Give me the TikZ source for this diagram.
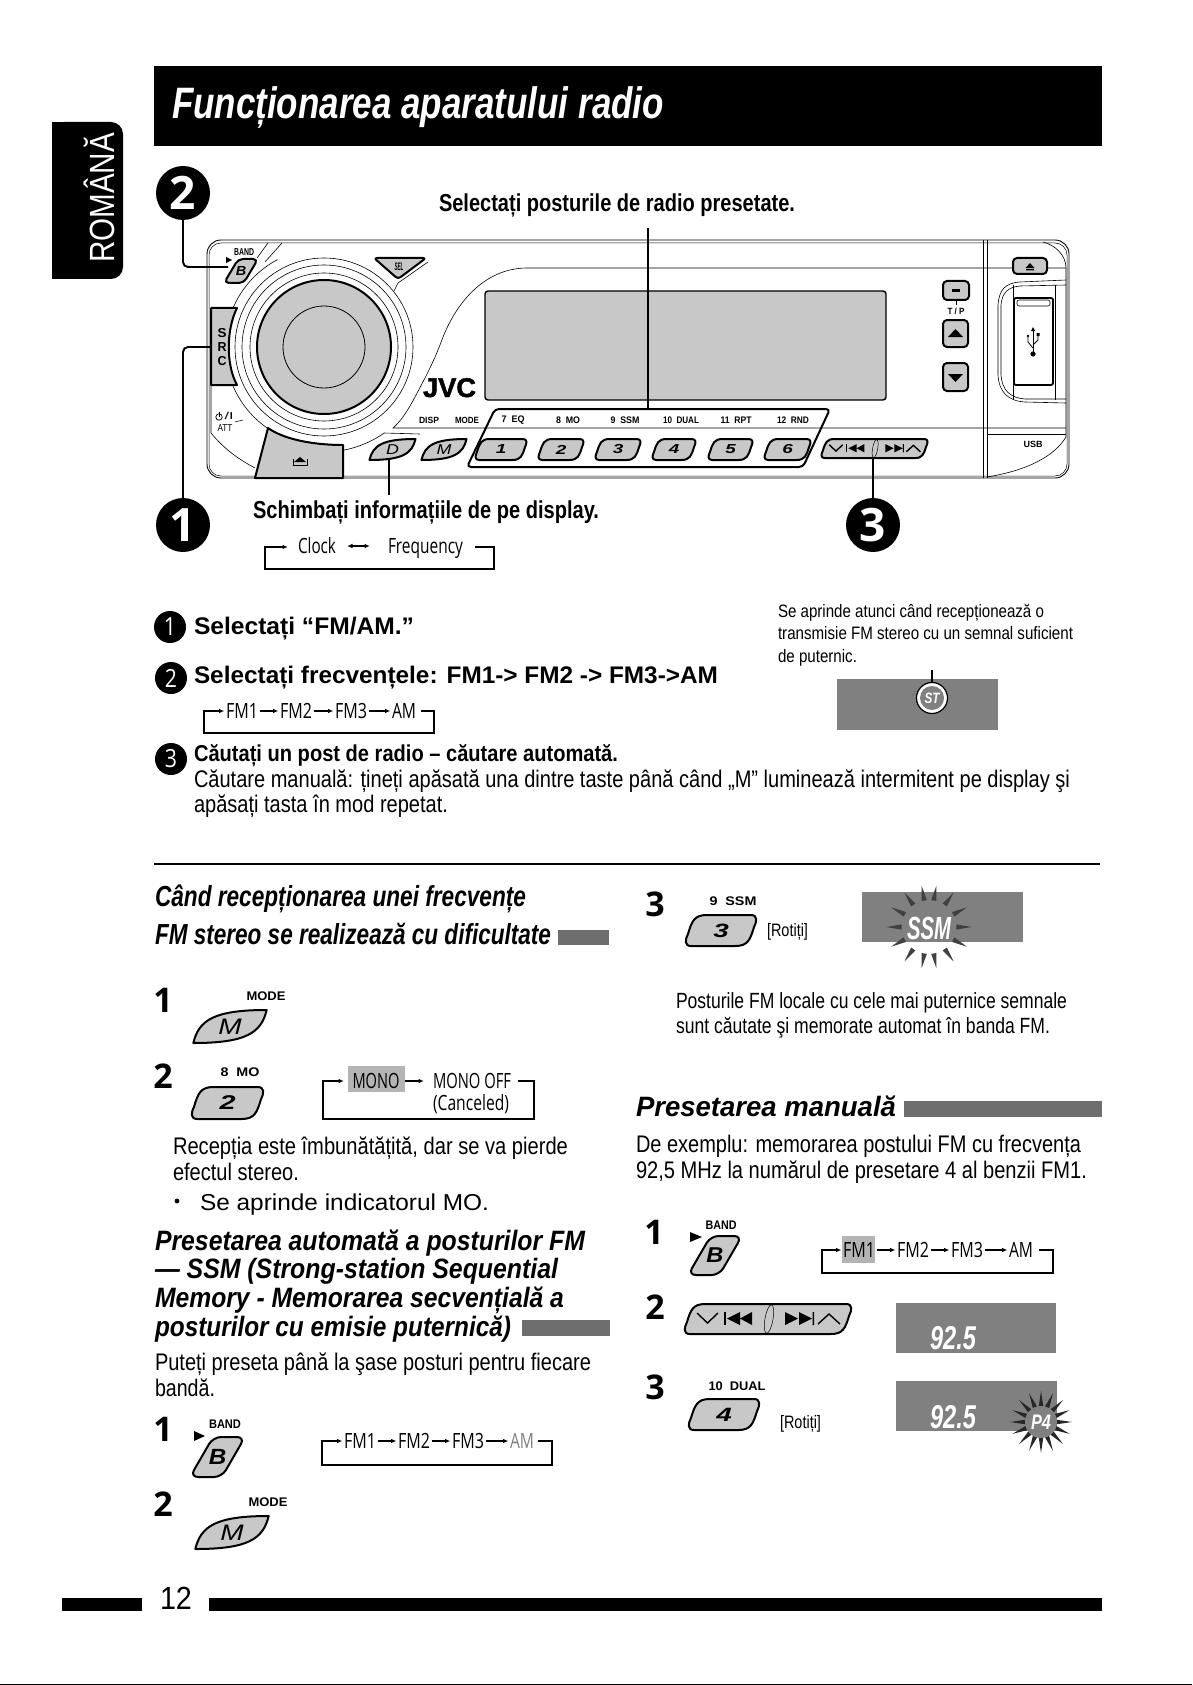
\documentclass[tikz,border=0pt]{standalone}
\usepackage{graphicx}
\usepackage{fontspec}
\setmainfont{Liberation Sans}
\newfontfamily\myr{Open Sans}
\newfontfamily\jvcf[FakeBold=1.6]{Liberation Sans}
\usetikzlibrary{arrows.meta,calc}
\newcommand\fs[1]{\fontsize{#1}{#1}\selectfont}
\newsavebox\fwbox
\newcommand\fw[2]{\sbox\fwbox{#2}\pgfmathsetmacro\fwr{#1/\wd\fwbox}\scalebox{\fwr}[1]{\usebox\fwbox}}
\newcounter{tc}
% left/baseline text fitted to a width
\newcommand\T[5]{\stepcounter{tc}\node[tl,font=#4] (t\thetc) at (#1,#2) {\fw{#3}{#5}};}
% centred text fitted to a width
\newcommand\C[5]{\stepcounter{tc}\node[tc,font=#4] (t\thetc) at (#1,#2) {\fw{#3}{#5}};}
% slanted preset button
\newcommand\pbtn[5]{\pgfmathsetmacro\hh{#4-#2}\pgfmathsetmacro\fsz{\hh*.62}
 \draw[btn] ({#1+.7*\hh},#2) -- ({#3-.2*\hh},#2) .. controls ({#3+.03*\hh},#2) and (#3,{#2+.2*\hh}) .. ({#3-.1*\hh},{#2+.4*\hh}) .. controls ({#3-.22*\hh},{#4-.2*\hh}) and ({#3-.3*\hh},#4) .. ({#3-.7*\hh},#4) -- ({#1+.2*\hh},#4) .. controls ({#1-.03*\hh},#4) and (#1,{#4-.2*\hh}) .. ({#1+.1*\hh},{#4-.4*\hh}) .. controls ({#1+.22*\hh},{#2+.2*\hh}) and ({#1+.3*\hh},#2) .. cycle;
 \stepcounter{tc}\node[tc,font=\bfseries\itshape\fs{\fsz}] (t\thetc) at ({(#1+#3)/2},{(#2+#4)/2}) {\scalebox{1.45}[1]{#5}};}
% leaf button
\newcommand\leaf[5]{\pgfmathsetmacro\ww{#3-#1}\pgfmathsetmacro\hh{#4-#2}\pgfmathsetmacro\fsz{\hh*.68}
 \draw[btn] ({#1+.03*\ww},#4) .. controls ({#1+.1*\ww},{#2+.3*\hh}) and ({#1+.3*\ww},#2) .. ({#3-.03*\ww},#2) .. controls ({#3-.1*\ww},{#4-.3*\hh}) and ({#3-.3*\ww},#4) .. cycle;
 \stepcounter{tc}\node[tc,font=\itshape\fs{\fsz}] (t\thetc) at ({(#1+#3)/2},{(#2+#4)/2}) {\scalebox{1.25}[1]{#5}};}
% B button
\newcommand\bbtn[4]{\pgfmathsetmacro\ww{#3-#1}\pgfmathsetmacro\hh{#4-#2}\pgfmathsetmacro\fsz{\hh*.55}\pgfmathsetmacro\rcs{\hh*.2}
 \draw[btn,rounded corners=\rcs pt] ({#1+.42*\ww},#2) -- (#3,#2) -- ({#3-.42*\ww},#4) -- (#1,#4) -- cycle;
 \stepcounter{tc}\node[tc,font=\bfseries\itshape\fs{\fsz}] (t\thetc) at ({(#1+#3)/2},{(#2+#4)/2}) {\scalebox{1.1}[1]{B}};}
% seek button drawn in a 168x30 cell
\newcommand\seekbtn[3]{\begin{scope}[shift={(#1,#2)},scale=#3]
 \pbtn{0}{0}{168}{30}{}
 \draw[black,line width=1.4pt,line join=miter] (13,9) -- (23.5,19) -- (34,9);
 \draw[black,line width=1.4pt,line join=miter] (134,20) -- (145,10) -- (156,20);
 \fill (40,8) rectangle (41.5,21);
 \fill (43,14.5) -- (56,8) -- (56,21) -- cycle (56,14.5) -- (68,8) -- (68,21) -- cycle;
 \fill (114,14.5) -- (101,8) -- (101,21) -- cycle (128,14.5) -- (115,8) -- (115,21) -- cycle (128.5,8) rectangle (130,21);
 \draw[black,line width=.5pt] (85,15) ellipse[x radius=4,y radius=14.5,rotate=-10];
 \end{scope}}
\newcommand\burst[8]{\foreach \a in {#7}{\fill[#6] ({#1+#5*#4*cos(\a)},{#2-#4*sin(\a)}) -- ({#1+#5*#3*cos(\a-#8)},{#2-#3*sin(\a-#8)}) -- ({#1+#5*#3*cos(\a+#8)},{#2-#3*sin(\a+#8)}) -- cycle;}}
\tikzset{
 tl/.style={anchor=base west,inner sep=0pt,outer sep=0pt},
 tc/.style={anchor=center,inner sep=0pt,outer sep=0pt},
 btn/.style={draw=black,fill=btngray,line width=2pt,line join=round},
 thinl/.style={draw=black,line width=.6pt},
 farr/.style={draw=black,line width=1.1pt,-{Latex[length=5.5pt,width=4.5pt]}},
 fmt/.style={anchor=center,inner sep=1.5pt,outer sep=0pt,font=\myr\fs{21}},
 callout/.style={draw=black,line width=1.9pt,rounded corners=5pt},
 numbg/.style={circle,fill=black,text=white,inner sep=0pt,font=\myr\bfseries\fs{46}},
 nums/.style={circle,fill=black,text=white,inner sep=0pt,minimum size=32pt,font=\myr\fs{25}},
 bignum/.style={anchor=center,inner sep=0pt,font=\myr\bfseries\fs{34}},
}
\definecolor{btngray}{HTML}{C8C8C8}
\definecolor{lcd}{HTML}{808080}
\definecolor{bar}{HTML}{6E6E6E}
\definecolor{hil}{HTML}{B4B4B4}
\begin{document}
\begin{tikzpicture}[x=1pt,y=-1pt]
\useasboundingbox (0,0) rectangle (1192,1685);
\fill[white] (0,0) rectangle (1192,1685);
\fill[black] (0,1684) rectangle (1192,1685);
% title
\fill[black] (154,66) rectangle (1102,146);
\T{172}{119}{492}{\bfseries\itshape\color{white}\fs{44}}{Funcționarea aparatului radio}
% tab
\fill[black,rounded corners=12pt] (52,122) -- (123,122) -- (123,279) -- (52,279) -- cycle;
\fill[black] (52,122) rectangle (70,279);
\stepcounter{tc}\node[tc,rotate=90,text=white,font=\fs{35}] (t\thetc) at (99,198) {\fw{130}{ROMÂNĂ}};
% ---------- device ----------
\draw[black,line width=.9pt,fill=white,rounded corners=14pt] (207,240) rectangle (1069,478);
\draw[black,line width=.5pt,rounded corners=12pt] (209,243) rectangle (1067,476);
% body lines
\draw[thinl] (1066,268) -- (527,268) .. controls (490,268) and (460,295) .. (443,337) .. controls (434,362) and (425,378) .. (415,397) .. controls (408,410) and (402,420) .. (393,428) -- (1066,428);
\draw[thinl] (987,434) -- (1066,434);
\draw[thinl] (987,477) .. controls (1030,470) and (1055,455) .. (1066,437) -- (1066,268) .. controls (1066,255) and (1055,245) .. (1043,242);
\draw[black,line width=.8pt] (983,240) -- (983,478) (987,240) -- (987,478);
\draw[thinl] (211,385) -- (211,433) .. controls (225,450) and (240,460) .. (255,468);
\draw[thinl] (268,243) -- (257,258) (282,243) -- (265,262);
\draw[thinl] (428,262) -- (398,283) -- (394,291);
% rings
\foreach \r in {74,82,89}{\draw[thinl] (324,347) circle[radius=\r];}
\draw[thinl] plot[domain=118:165,samples=24] ({324+99*cos(\x)},{347-99*sin(\x)});
\draw[thinl] plot[domain=195:250,samples=24] ({324+99*cos(\x)},{347-99*sin(\x)});
\draw[thinl] plot[domain=270:305,samples=16] ({324+105*cos(\x)},{347-105*sin(\x)}) -- (420,434);
\draw[black,line width=2pt,fill=btngray] (324,347) circle[radius=67];
\draw[black,line width=.8pt] (324,347) circle[radius=41];
% SRC
\draw[btn] (211,308) -- (237,308) .. controls (226,330) and (226,365) .. (237,385) -- (211,385) -- cycle;
\C{222}{333}{9}{\bfseries\fs{13}}{S}\C{222}{347}{9}{\bfseries\fs{13}}{R}\C{222}{361}{9}{\bfseries\fs{13}}{C}
% eject knob
\draw[btn] (268,428) .. controls (285,440) and (315,445) .. (343,445) -- (343,478) -- (255,478) -- cycle;
\fill[black] (300,457) -- (306,462) -- (294,462) -- cycle;
\draw[black,line width=.9pt] (293,459) -- (293,465) -- (307,465) -- (307,459);
% B, SEL
\bbtn{224}{259}{258}{283}
\fill[black] (226,257) -- (232,260) -- (226,263) -- cycle;
\C{244}{252}{20}{\bfseries\fs{10}}{BAND}
\draw[btn,rounded corners=3pt] (374,258) -- (426,258) -- (398,279) -- cycle;
\C{399}{267}{9}{\bfseries\itshape\fs{11}}{SEL}
% power/att
\draw[black,line width=.7pt] (219,417) circle[radius=3.2];
\draw[black,line width=.7pt] (219,412) -- (219,417);
\C{229}{416}{9}{\fs{10}}{/I}
\C{225}{428}{15}{\fs{10}}{ATT}
\draw[thinl] (235,422) -- (243,420);
% JVC, display
\T{423}{397}{53}{\jvcf\bfseries\fs{27}}{JVC}
\draw[black,line width=1.4pt,fill=btngray,rounded corners=3pt] (485,291) rectangle (886,400);
% keys labels
\C{429}{420}{20}{\bfseries\fs{9}}{DISP}\C{467}{420}{24}{\bfseries\fs{9}}{MODE}
\draw[black,line width=2pt,rounded corners=4pt] (495,409) -- (830,409) -- (803,467) -- (467,467) -- cycle;
\C{513}{420}{23}{\bfseries\fs{9.5}}{7~~EQ}\C{568}{420}{24}{\bfseries\fs{9.5}}{8~~MO}\C{625}{420}{29}{\bfseries\fs{9.5}}{9~~SSM}
\C{681}{420}{36}{\bfseries\fs{9.5}}{10~~DUAL}\C{736}{420}{31}{\bfseries\fs{9.5}}{11~~RPT}\C{793}{420}{32}{\bfseries\fs{9.5}}{12~~RND}
\leaf{368}{439}{417}{460}{D}\leaf{420}{439}{468}{460}{M}
\pbtn{475}{439}{527}{460}{1}\pbtn{538}{439}{584}{460}{2}\pbtn{595}{439}{641}{460}{3}
\pbtn{652}{439}{696}{460}{4}\pbtn{708}{439}{753}{460}{5}\pbtn{764}{439}{811}{460}{6}
\seekbtn{821}{439}{.637}
% right keys
\draw[btn,rounded corners=4pt] (943,281) rectangle (969,300);
\fill[black] (952,289) rectangle (960,292);
\draw[black,line width=.6pt] (956,301) -- (956,305);
\C{956}{311}{17}{\bfseries\fs{9}}{T / P}
\draw[btn,rounded corners=4pt] (943,320) rectangle (968,347);
\fill[black] (955.5,329) -- (963,337) -- (948,337) -- cycle;
\draw[btn,rounded corners=4pt] (943,363) rectangle (968,391);
\fill[black] (955.5,382) -- (963,374) -- (948,374) -- cycle;
\draw[btn,rounded corners=4pt] (1013,258) rectangle (1047,274);
\fill[black] (1030,263) -- (1034.5,268) -- (1025.5,268) -- cycle (1026,269) rectangle (1034,270.5);
% USB
\draw[thinl] (1066,280) -- (1020,282) .. controls (1005,283) and (999,290) .. (998,305) -- (998,375) .. controls (999,392) and (1008,401) .. (1025,402) -- (1066,403);
\draw[thinl] (1066,285) -- (1020,286) .. controls (1008,287) and (1002,293) .. (1001,305) -- (1001,375) .. controls (1002,390) and (1010,398) .. (1025,399) -- (1066,399);
\draw[thinl] (1013,285) -- (1013,400) (1055,285) -- (1055,400);
\draw[black,line width=1.8pt,fill=white,rounded corners=2pt] (1014,298) rectangle (1053,385);
\draw[thinl,rounded corners=2pt] (1017,300) rectangle (1050,306);
\fill[black] (1033,354) circle[radius=2.6];
\draw[black,line width=.8pt] (1033,354) -- (1033,329);
\fill[black] (1033,327) -- (1035,331) -- (1031,331) -- cycle;
\draw[black,line width=.8pt] (1033,348) -- (1028,342) -- (1028,337) (1033,345) -- (1038,340) -- (1038,335);
\fill[black] (1028,336) circle[radius=1.3] (1036.5,333) rectangle (1039.5,336);
\C{1033}{444}{19}{\bfseries\fs{9}}{USB}
% callouts
\node[numbg,minimum size=54pt] (n2) at (183,193) {2};
\node[numbg,minimum size=54pt] (n1) at (183,525) {1};
\node[numbg,minimum size=54pt] (n3) at (873,525) {3};
\coordinate (cb) at (228,267); \coordinate (csrc) at (211,347); \coordinate (cseek) at (873,459);
\coordinate (cd) at (389,460); \coordinate (cdt) at (389,495); \coordinate (cpt) at (648,228); \coordinate (cpb) at (648,409);
\draw[callout] (n2) |- (cb);
\draw[callout] (n1) |- (csrc);
\draw[black,line width=2pt] (n3) -- (cseek);
\draw[black,line width=1.2pt] (cd) -- (cdt);
\draw[black,line width=2.4pt] (cpt) -- (cpb);
\T{439}{212}{356}{\bfseries\fs{24.5}}{Selectați posturile de radio presetate.}
\T{253}{518}{346}{\bfseries\fs{24.5}}{Schimbați informațiile de pe display.}
% clock
\T{298}{553}{38}{\myr\fs{21}}{Clock}
\T{388}{553}{75}{\myr\fs{21}}{Frequency}
\coordinate (k1) at (475,547);\coordinate (k2) at (494,547);\coordinate (k3) at (494,569);\coordinate (k4) at (265,569);\coordinate (k5) at (265,547);\coordinate (k6) at (288,547);
\coordinate (d1) at (347,546);\coordinate (d2) at (370,546);
\draw[farr] (k1) -- (k2) -- (k3) -- (k4) -- (k5) -- (k6);
\draw[draw=black,line width=1.1pt,{Latex[length=5.5pt,width=4.5pt]}-{Latex[length=5.5pt,width=4.5pt]}] (d1) -- (d2);
% steps
\node[nums] (s1) at (170,627) {\scalebox{.85}[1]{1}};
\T{194}{634}{220}{\bfseries\fs{24}}{Selectați “FM/AM.”}
\node[nums] (s2) at (171,678) {\scalebox{.85}[1]{2}};
\T{194}{683}{524}{\bfseries\fs{24}}{Selectați frecvențele: FM1-> FM2 -> FM3->AM}
\node[fmt] (a1) at (242,711) {\fw{32}{FM1}};
\node[fmt] (a2) at (296,711) {\fw{32}{FM2}};
\node[fmt] (a3) at (351,711) {\fw{32}{FM3}};
\node[fmt] (a4) at (404,711) {\fw{24}{AM}};
\coordinate (a5) at (421,711);\coordinate (a6) at (434,711);\coordinate (a7) at (434,733);\coordinate (a8) at (204,733);\coordinate (a9) at (204,711);
\draw[farr] (a5) -- (a6) -- (a7) -- (a8) -- (a9) -- (a1);
\draw[farr] (a1) -- (a2); \draw[farr] (a2) -- (a3); \draw[farr] (a3) -- (a4);
\node[nums] (s3) at (171,759) {\scalebox{.85}[1]{3}};
\T{194}{761}{424}{\bfseries\fs{23}}{Căutați un post de radio – căutare automată.}
\T{194}{787}{876}{\fs{24}}{Căutare manuală: țineți apăsată una dintre taste până când „M” luminează intermitent pe display şi}
\T{194}{812}{254}{\fs{24}}{apăsați tasta în mod repetat.}
% stereo note
\T{778}{617}{266}{\fs{18}}{Se aprinde atunci când recepționează o}
\T{778}{639}{295}{\fs{18}}{transmisie FM stereo cu un semnal suficient}
\T{778}{662}{79}{\fs{18}}{de puternic.}
\fill[lcd] (837,679) rectangle (998,730);
\draw[black,line width=1.4pt] (932,670) -- (932,683);
\draw[black,line width=1.2pt,fill=white] (932,698) circle[radius=15.5];
\fill[lcd] (932,698) circle[radius=12];
\C{932}{698}{15}{\bfseries\itshape\color{white}\fs{15}}{ST}
% divider
\draw[black,line width=2pt] (154,864) -- (1100,864);
% left column
\T{155}{906}{371}{\bfseries\itshape\fs{29}}{Când recepționarea unei frecvențe}
\T{155}{944}{396}{\bfseries\itshape\fs{29}}{FM stereo se realizează cu dificultate}
\fill[bar] (558,930) rectangle (609,945);
\node[bignum] (m1) at (163,1000) {1};
\C{266}{996}{39}{\bfseries\fs{12.5}}{MODE}
\leaf{191}{1010}{269}{1043}{M}
\node[bignum] (m2) at (163,1076) {2};
\C{240}{1072}{39}{\bfseries\fs{12.5}}{8~~MO}
\pbtn{191}{1087}{264}{1119}{2}
\fill[hil] (348,1066) rectangle (405,1092);
\node[fmt] (o1) at (376,1081) {\fw{47}{MONO}};
\node[fmt,anchor=west,inner sep=0pt] (o2) at (433,1081) {\fw{78}{MONO OFF}};
\T{433}{1110}{76}{\myr\fs{21}}{(Canceled)}
\coordinate (o3) at (518,1081);\coordinate (o4) at (534,1081);\coordinate (o5) at (534,1119);\coordinate (o6) at (323,1119);\coordinate (o7) at (323,1081);\coordinate (o8) at (344,1081);
\draw[farr] (o3) -- (o4) -- (o5) -- (o6) -- (o7) -- (o8);
\draw[farr,shorten <=4pt,shorten >=9pt] (o1) -- (o2);
\T{173}{1154}{395}{\fs{24}}{Recepția este îmbunătățită, dar se va pierde}
\T{173}{1180}{126}{\fs{24}}{efectul stereo.}
\fill[black] (177,1201) circle[radius=2.4];
\T{200}{1210}{289}{\fs{23}}{Se aprinde indicatorul MO.}
\T{155}{1250}{430}{\bfseries\itshape\fs{28}}{Presetarea automată a posturilor FM}
\T{155}{1278}{403}{\bfseries\itshape\fs{28}}{— SSM (Strong-station Sequential}
\T{155}{1307}{409}{\bfseries\itshape\fs{28}}{Memory - Memorarea secvențială a}
\T{155}{1336}{356}{\bfseries\itshape\fs{28}}{posturilor cu emisie puternică)}
\fill[bar] (522,1320) rectangle (610,1336);
\T{155}{1370}{436}{\fs{24}}{Puteți preseta până la şase posturi pentru fiecare}
\T{155}{1396}{60}{\fs{24}}{bandă.}
\node[bignum] (p1) at (163,1429) {1};
\C{225}{1424}{32}{\bfseries\fs{12.5}}{BAND}
\fill[black] (194,1431) -- (205,1436) -- (194,1441) -- cycle;
\bbtn{190}{1437}{245}{1477}
\node[fmt] (b1) at (360,1441) {\fw{32}{FM1}};
\node[fmt] (b2) at (414,1441) {\fw{32}{FM2}};
\node[fmt] (b3) at (468,1441) {\fw{32}{FM3}};
\node[fmt,text=gray] (b4) at (522,1441) {\fw{24}{AM}};
\coordinate (b5) at (538,1441);\coordinate (b6) at (552,1441);\coordinate (b7) at (552,1465);\coordinate (b8) at (322,1465);\coordinate (b9) at (322,1441);
\draw[farr] (b5) -- (b6) -- (b7) -- (b8) -- (b9) -- (b1);
\draw[farr] (b1) -- (b2); \draw[farr] (b2) -- (b3); \draw[farr] (b3) -- (b4);
\node[bignum] (p2) at (163,1504) {2};
\C{268}{1502}{39}{\bfseries\fs{12.5}}{MODE}
\leaf{193}{1516}{271}{1549}{M}
% page number
\fill[black] (62,1598) rectangle (142,1611);
\T{160}{1609}{32}{\fs{32}}{12}
\fill[black] (209,1598) rectangle (1102,1611);
% right column
\node[bignum] (r3) at (655,904) {3};
\C{733}{901}{47}{\bfseries\fs{12.5}}{9~~SSM}
\pbtn{685}{915}{757}{946}{3}
\T{767}{936}{41}{\fs{18}}{[Rotiți]}
\fill[lcd] (862,892) rectangle (1023,942);
\burst{929}{927}{27}{42}{1.02}{black!75}{0,28,55,80,100,125,152,180,208,235,260,280,305,332}{5.5}
\C{929}{928}{44}{\bfseries\itshape\color{white}\fs{32}}{SSM}
\T{676}{1008}{391}{\fs{22}}{Posturile FM locale cu cele mai puternice semnale}
\T{676}{1033}{374}{\fs{22}}{sunt căutate şi memorate automat în banda FM.}
\T{636}{1116}{260}{\bfseries\itshape\fs{28}}{Presetarea manuală}
\fill[bar] (904,1101) rectangle (1102,1117);
\T{636}{1152}{445}{\fs{24}}{De exemplu: memorarea postului FM cu frecvența}
\T{636}{1178}{451}{\fs{24}}{92,5 MHz la numărul de presetare 4 al benzii FM1.}
\node[bignum] (q1) at (654,1232) {1};
\C{721}{1225}{31}{\bfseries\fs{12.5}}{BAND}
\fill[black] (690,1232) -- (702,1237) -- (690,1242) -- cycle;
\bbtn{688}{1236}{742}{1275}
\fill[hil] (842,1236) rectangle (875,1263);
\node[fmt] (c1) at (859,1250) {\fw{32}{FM1}};
\node[fmt] (c2) at (913,1250) {\fw{32}{FM2}};
\node[fmt] (c3) at (967,1250) {\fw{32}{FM3}};
\node[fmt] (c4) at (1021,1250) {\fw{24}{AM}};
\coordinate (c5) at (1039,1250);\coordinate (c6) at (1053,1250);\coordinate (c7) at (1053,1273);\coordinate (c8) at (822,1273);\coordinate (c9) at (822,1250);
\draw[farr] (c5) -- (c6) -- (c7) -- (c8) -- (c9) -- (c1);
\draw[farr] (c1) -- (c2); \draw[farr] (c2) -- (c3); \draw[farr] (c3) -- (c4);
\node[bignum] (q2) at (655,1307) {2};
\seekbtn{684}{1304}{1}
\fill[lcd] (896,1303) rectangle (1056,1353);
\C{953}{1338}{46}{\bfseries\itshape\color{white}\fs{33}}{92.5}
\node[bignum] (q3) at (655,1387) {3};
\C{737}{1386}{57}{\bfseries\fs{12.5}}{10~~DUAL}
\pbtn{688}{1399}{760}{1430}{4}
\T{780}{1428}{41}{\fs{18}}{[Rotiți]}
\fill[lcd] (896,1381) rectangle (1057,1431);
\C{953}{1417}{46}{\bfseries\itshape\color{white}\fs{33}}{92.5}
\burst{1041}{1422}{16}{31}{1}{black!85}{0,22.5,45,67.5,90,112.5,135,157.5,180,202.5,225,247.5,270,292.5,315,337.5}{8}
\fill[lcd] (1041,1422) circle[radius=16];
\C{1041}{1422}{20}{\bfseries\itshape\color{white}\fs{21}}{P4}
\end{tikzpicture}
\end{document}
